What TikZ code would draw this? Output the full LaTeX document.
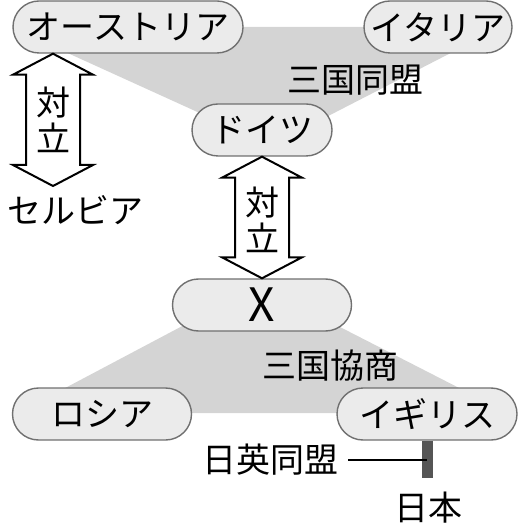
\documentclass[tikz,border=0pt]{standalone}
\usepackage{fontspec}
\setmainfont{Noto Sans CJK JP}
\usetikzlibrary{calc}
\definecolor{boxfill}{HTML}{EBEBEB}
\definecolor{bloc}{HTML}{D4D4D4}
\definecolor{boxline}{HTML}{707070}
\definecolor{barcol}{HTML}{555555}
\tikzset{
  country/.style={draw=boxline,fill=boxfill,line width=.7pt,rounded corners=13pt,
    minimum height=26pt,inner sep=0pt,font=\fontsize{17}{18}\selectfont},
  lbl/.style={inner sep=0pt,font=\fontsize{17}{18}\selectfont},
  fat/.style={draw=black,fill=white,line width=1pt,line join=miter}
}
% hollow double arrow from top tip #1 down to bottom tip #2
\newcommand\fatarrow[2]{%
  \draw[fat] (#1) -- ++(-40,21) -- ++(13,0) -- ($(#2)+(-27,-21)$) -- ++(-13,0)
    -- (#2) -- ++(40,-21) -- ++(-13,0) -- ($(#1)+(27,21)$) -- ++(13,0) -- cycle;}
\begin{document}
\begin{tikzpicture}[x=.5pt,y=-.5pt]
\useasboundingbox (0,0) rectangle (528,528);
% alliances
\fill[bloc] (39,27) -- (476,27) -- (476,40) -- (301,130) -- (237,130) -- (39,40) -- cycle;
\fill[bloc] (222,305) -- (297,305) -- (508,413) -- (18,413) -- cycle;
\node[country,minimum width=115pt] (aus) at (128,27) {オーストリア};
\node[country,minimum width=74pt] (ita) at (438,27) {イタリア};
\node[country,minimum width=70pt] (ger) at (262,130) {ドイツ};
\node[lbl] (triple) at (355,80) {三国同盟};
\node[lbl] (ser) at (75,210) {セルビア};
\node[country,minimum width=89.5pt,font=\fontsize{23}{24}\selectfont] (xn) at (262,305) {X};
\node[lbl] (entente) at (330,366) {三国協商};
\node[country,minimum width=89.5pt] (rus) at (102,414) {ロシア};
\node[country,minimum width=90pt] (gbr) at (427,414) {イギリス};
\node[lbl] (anglo) at (270,460) {日英同盟};
\node[lbl] (jpn) at (428,508) {日本};
\coordinate (b1) at (53,186);
\coordinate (t1) at (aus.south -| b1);
\coordinate (jbar) at (427,478);
% rivalries
\fatarrow{t1}{b1}
\fatarrow{ger.south}{xn.north}
\node[lbl,align=center] (opp1) at (53,120) {対\\立};
\node[lbl,align=center] (opp2) at (262,220) {対\\立};
% Anglo-Japanese alliance
\draw[barcol,line width=5.5pt] (gbr.south) -- (jbar);
\draw[line width=.7pt,shorten <=5pt] (anglo.east) -- (anglo.east -| jbar);
\end{tikzpicture}
\end{document}
